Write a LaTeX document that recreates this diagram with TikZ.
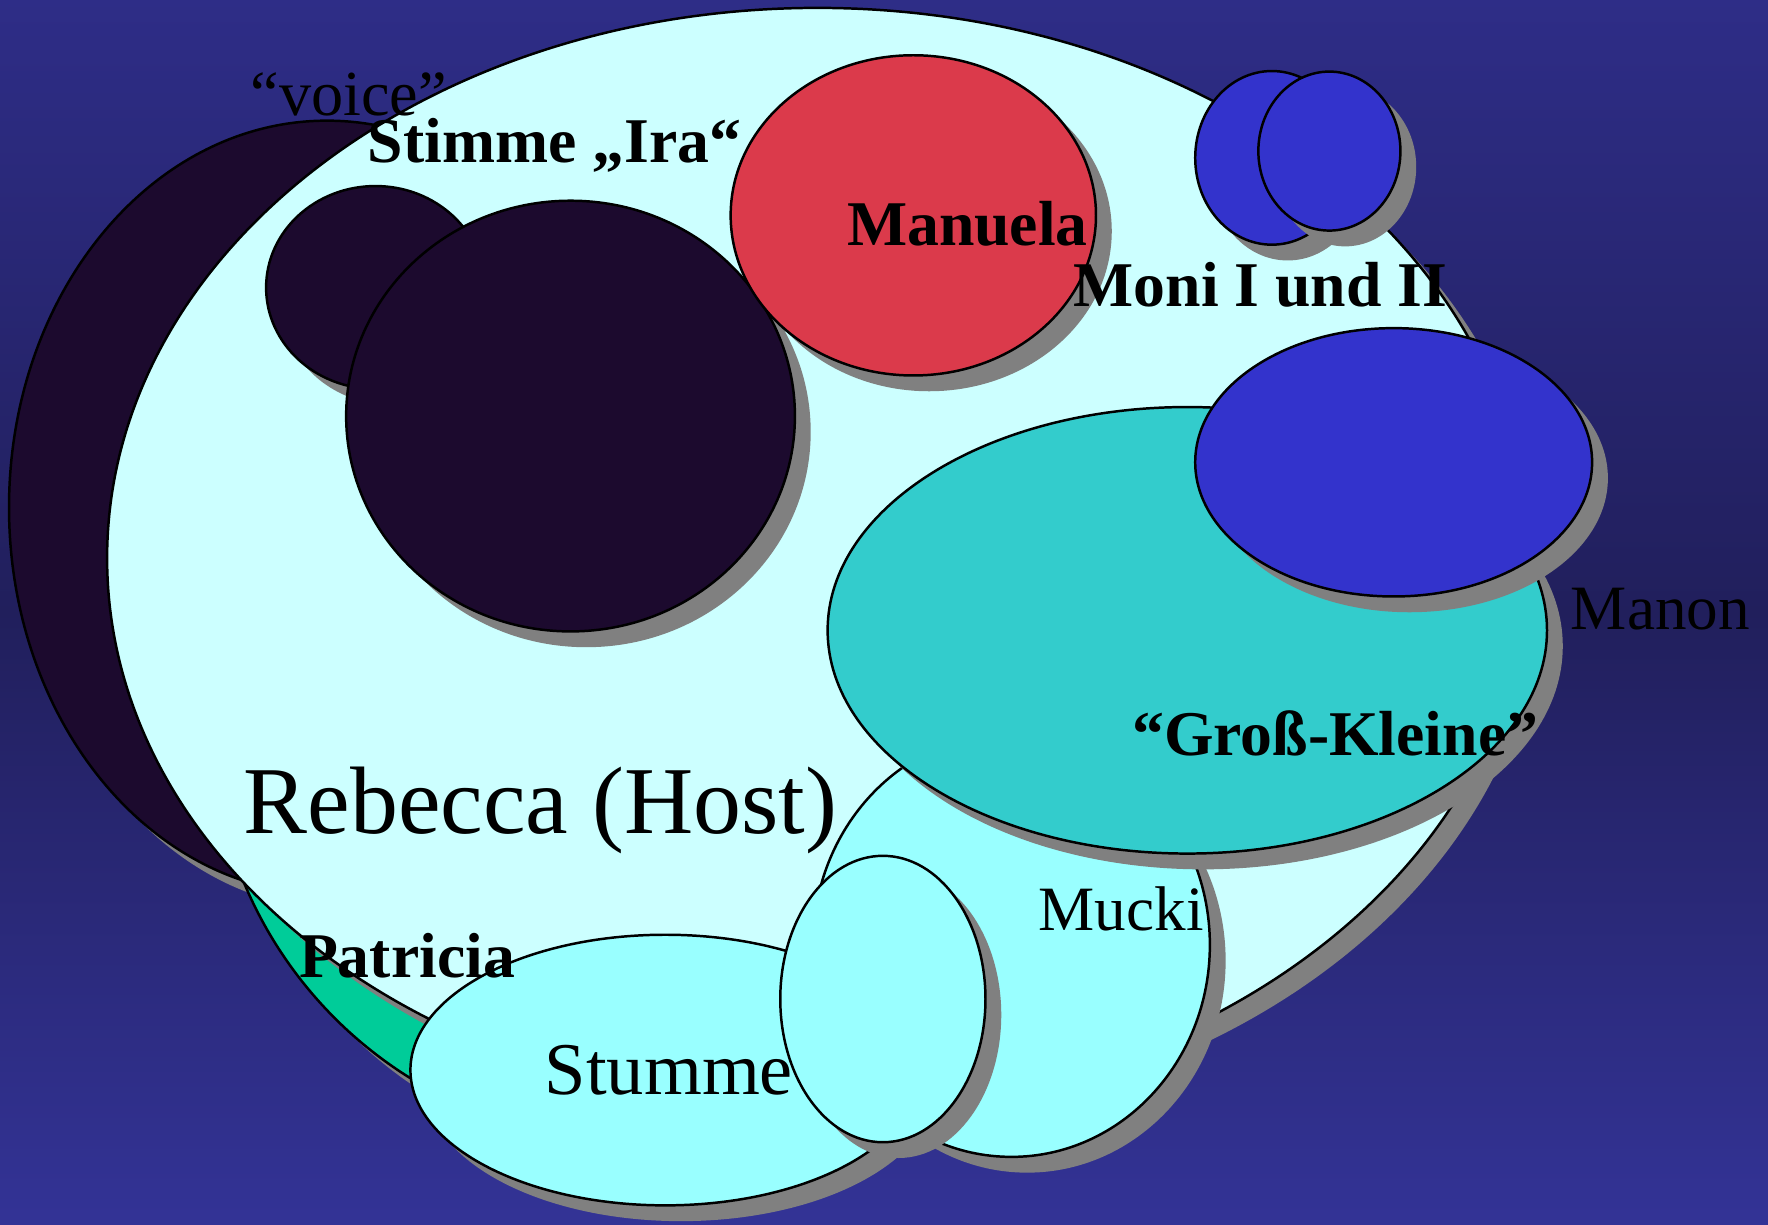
\documentclass[tikz,border=0pt]{standalone}
\usepackage{fontspec}
\setmainfont{Liberation Serif}
\usetikzlibrary{shapes.geometric,shadows}

\definecolor{bgtop}{HTML}{2E2D87}
\definecolor{bgmid}{HTML}{211F5C}
\definecolor{bgbot}{HTML}{333396}
\definecolor{hostfill}{HTML}{CCFFFF}
\definecolor{darkfill}{HTML}{1C0A2E}
\definecolor{redfill}{HTML}{DB3A4B}
\definecolor{bluefill}{HTML}{3333CC}
\definecolor{tealfill}{HTML}{33CCCC}
\definecolor{palefill}{HTML}{99FFFF}
\definecolor{greenfill}{HTML}{00CC99}
\definecolor{shadowgray}{HTML}{808080}

\begin{document}
\begin{tikzpicture}[x=1pt,y=-1pt,
 blob/.style={ellipse,draw=black,line width=2.2pt,inner sep=0pt,
  drop shadow={shadow xshift=14pt,shadow yshift=-14pt,fill=shadowgray,opacity=1}},
 lbl/.style={anchor=base west,inner sep=0pt,font=\fontsize{56}{60}\selectfont},
 boldlbl/.style={lbl,font=\fontsize{56.5}{60}\selectfont\bfseries}]
\useasboundingbox (0,0) rectangle (1568,1086);
\shade[top color=bgtop,bottom color=bgbot,middle color=bgmid] (0,0) rectangle (1568,1086);

% persons, back to front
\node[blob,fill=darkfill,minimum width=564pt,minimum height=686pt] (voice) at (290,450) {};
\node[blob,fill=greenfill,minimum width=744pt,minimum height=744pt] (patricia) at (560,640) {};
\node[blob,fill=hostfill,minimum width=1260pt,minimum height=976pt] (host) at (725,495) {};
\node[blob,fill=darkfill,minimum width=194pt,minimum height=180pt] (irasmall) at (333,255) {};
\node[blob,fill=darkfill,minimum width=398pt,minimum height=382pt] (ira) at (506,369) {};
\node[blob,fill=redfill,minimum width=324pt,minimum height=284pt] (manuela) at (810,191) {};
\node[blob,fill=bluefill,minimum width=136pt,minimum height=154pt] (moni1) at (1128,140) {};
\node[blob,fill=bluefill,minimum width=126pt,minimum height=141pt] (moni2) at (1179,134) {};
\node[blob,fill=palefill,minimum width=352pt,minimum height=376pt] (mucki) at (897,838) {};
\node[blob,fill=tealfill,minimum width=638pt,minimum height=396pt] (gross) at (1053,559) {};
\node[blob,fill=bluefill,minimum width=352pt,minimum height=238pt] (manon) at (1236,410) {};
\node[blob,fill=palefill,minimum width=452pt,minimum height=240pt] (stumme) at (590,949) {};
\node[blob,fill=palefill,minimum width=182pt,minimum height=254pt] (kleinoval) at (783,886) {};

% names
\node[lbl,font=\fontsize{57}{60}\selectfont] (voicetxt) at (222,102) {“voice”};
\node[boldlbl] (iratxt) at (326,144) {Stimme „Ira“};
\node[boldlbl] (manuelatxt) at (751,218) {Manuela};
\node[boldlbl] (monitxt) at (952,272) {Moni I und II};
\node[lbl] (manontxt) at (1393,558) {Manon};
\node[boldlbl] (grosstxt) at (1004,670) {“Groß-Kleine”};
\node[lbl,font=\fontsize{85}{90}\selectfont] (hosttxt) at (216,739) {Rebecca (Host)};
\node[boldlbl] (patriciatxt) at (265,867) {Patricia};
\node[lbl,font=\fontsize{66}{70}\selectfont] (stummetxt) at (483,971) {Stumme};
\node[lbl] (muckitxt) at (921,825) {Mucki};
\end{tikzpicture}
\end{document}
